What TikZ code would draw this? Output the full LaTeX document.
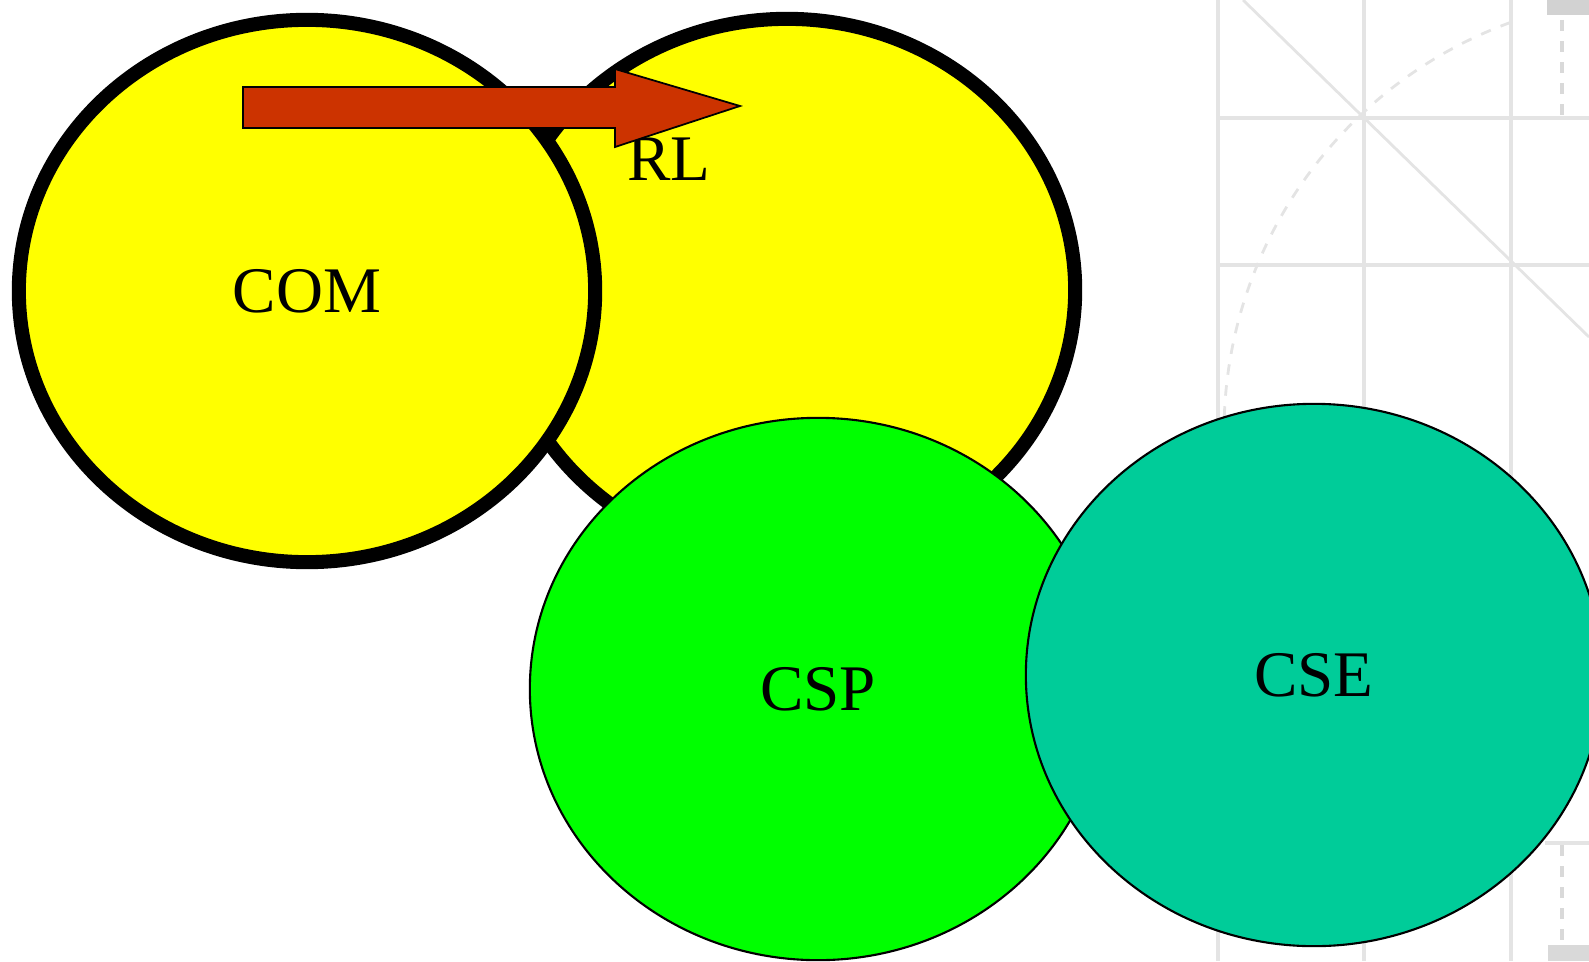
\documentclass[tikz,border=0pt]{standalone}
\usepackage{fontspec}
\setmainfont{Liberation Serif}
\usetikzlibrary{shapes.geometric}
\definecolor{yel}{HTML}{FFFF00}
\definecolor{grn}{HTML}{00FF00}
\definecolor{teal}{HTML}{00CC99}
\definecolor{arr}{HTML}{CC3300}
\definecolor{grd}{HTML}{E4E4E4}
\begin{document}
\begin{tikzpicture}[x=0.01cm, y=-0.01cm, font=\fontsize{18.5}{22}\selectfont,
  blob/.style={ellipse, draw=black, inner sep=0pt, minimum width=5.76cm, minimum height=5.42cm}]
\useasboundingbox (0,0) rectangle (1589,961);
% faint grid behind the right-hand side
\foreach \x in {1218,1364,1511} \draw[grd, line width=1.1pt] (\x,0) -- (\x,961);
\foreach \y in {118,265} \draw[grd, line width=1.1pt] (1218,\y) -- (1589,\y);
\draw[grd, line width=0.8pt] (1243,0) -- (1589,337);
\draw[grd, line width=0.8pt, dashed] (1660,432) ++(182:436) arc[start angle=182, end angle=250, radius=436];
\fill[gray!35] (1547,0) rectangle (1589,15);
\draw[gray!30, line width=1.1pt, dashed] (1562,20) -- (1562,120) (1562,845) -- (1562,940);
\draw[grd, line width=1.1pt] (1545,843) -- (1589,843);
\fill[gray!30] (1548,945) rectangle (1589,961);
% the four sets
\node[blob, fill=yel, line width=4pt] (rl) at (787,290) {};
\node[blob, fill=yel, line width=4pt] (com) at (307,291) {COM};
\node[blob, fill=grn, line width=0.6pt] (csp) at (818,689) {CSP};
\node[blob, fill=teal, line width=0.6pt] (cse) at (1314,675) {CSE};
\node (rltxt) at (669,159) {RL};
% block arrow from COM into RL
\draw[fill=arr, line width=0.5pt] (243,87) -- (615,87) -- (615,69) -- (740,106) -- (615,147) -- (615,128) -- (243,128) -- cycle;
\end{tikzpicture}
\end{document}
